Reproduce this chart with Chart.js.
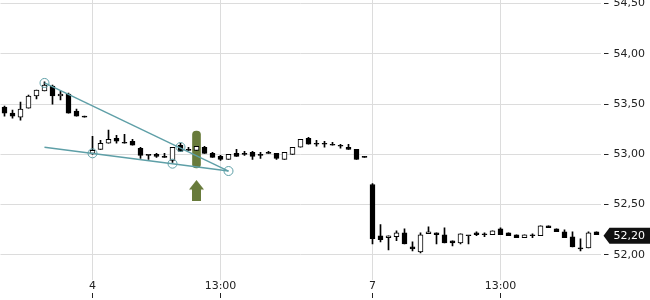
<!DOCTYPE html>
<html>
<head>
<meta charset="utf-8">
<script src="https://cdn.jsdelivr.net/npm/chart.js@4.4.1/dist/chart.umd.min.js"></script>
<style>
  html, body { margin: 0; padding: 0; background: #fff; }
  #wrap { width: 650px; height: 300px; }
</style>
</head>
<body>
<div id="wrap"><canvas id="chart" width="650" height="300"></canvas></div>
<script>
// 15-minute candles: end of day 3, full session of day 4, day 7 until 16:00
const sessions = [
  { day: 3, from: '15:00', count: 11 },
  { day: 4, from: '09:00', count: 35 },
  { day: 7, from: '09:00', count: 29 },
];

const open = [
  53.47, 53.41, 53.37, 53.46, 53.58, 53.63, 53.68, 53.58, 53.60, 53.43, 53.37,
  53.01, 53.05, 53.11, 53.16, 53.11, 53.13, 53.06, 52.99, 53.00, 52.97, 52.94, 53.09, 53.04, 53.04, 53.07,
  53.01, 52.98, 52.95, 53.01, 53.01, 53.02, 52.99, 53.01, 53.01, 52.95, 53.00, 53.07, 53.16, 53.11, 53.10,
  53.09, 53.08, 53.07, 53.05, 52.97,
  52.70, 52.19, 52.17, 52.18, 52.22, 52.08, 52.03, 52.21, 52.22, 52.20, 52.14, 52.12, 52.19, 52.22, 52.20,
  52.20, 52.26, 52.22, 52.20, 52.17, 52.19, 52.19, 52.29, 52.26, 52.23, 52.18, 52.07, 52.07, 52.23,
];
const high = [
  53.48, 53.44, 53.52, 53.59, 53.64, 53.72, 53.69, 53.63, 53.61, 53.45, 53.37,
  53.18, 53.14, 53.24, 53.19, 53.20, 53.15, 53.07, 52.99, 53.01, 53.01, 53.07, 53.11, 53.07, 53.08, 53.08,
  53.02, 52.99, 53.00, 53.05, 53.03, 53.03, 53.02, 53.03, 53.01, 53.02, 53.07, 53.15, 53.17, 53.14, 53.13,
  53.12, 53.10, 53.10, 53.05, 52.97,
  52.71, 52.30, 52.19, 52.24, 52.26, 52.13, 52.22, 52.28, 52.22, 52.27, 52.14, 52.21, 52.19, 52.23, 52.22,
  52.24, 52.27, 52.22, 52.20, 52.20, 52.21, 52.29, 52.29, 52.26, 52.25, 52.23, 52.16, 52.23, 52.23,
];
const low = [
  53.38, 53.36, 53.34, 53.46, 53.55, 53.63, 53.50, 53.54, 53.41, 53.38, 53.37,
  53.00, 53.05, 53.11, 53.11, 53.11, 53.09, 52.96, 52.95, 52.97, 52.97, 52.92, 53.03, 53.04, 53.04, 53.01,
  52.97, 52.94, 52.95, 52.98, 52.99, 52.95, 52.96, 53.01, 52.95, 52.95, 53.00, 53.07, 53.10, 53.08, 53.07,
  53.09, 53.06, 53.05, 52.95, 52.97,
  52.11, 52.13, 52.05, 52.14, 52.11, 52.04, 52.02, 52.21, 52.11, 52.12, 52.09, 52.11, 52.11, 52.19, 52.18,
  52.20, 52.20, 52.19, 52.17, 52.17, 52.17, 52.19, 52.27, 52.23, 52.17, 52.08, 52.04, 52.07, 52.20,
];
const close = [
  53.41, 53.38, 53.45, 53.58, 53.64, 53.69, 53.58, 53.60, 53.41, 53.38, 53.37,
  53.04, 53.11, 53.15, 53.13, 53.11, 53.09, 52.99, 52.99, 52.98, 52.97, 53.07, 53.03, 53.04, 53.08, 53.01,
  52.97, 52.95, 53.00, 52.98, 53.00, 52.98, 52.99, 53.01, 52.96, 53.02, 53.07, 53.15, 53.10, 53.10, 53.10,
  53.09, 53.08, 53.05, 52.95, 52.97,
  52.16, 52.15, 52.19, 52.22, 52.11, 52.06, 52.20, 52.23, 52.20, 52.12, 52.12, 52.21, 52.19, 52.20, 52.20,
  52.24, 52.20, 52.19, 52.17, 52.20, 52.19, 52.29, 52.27, 52.23, 52.17, 52.08, 52.06, 52.22, 52.20,
];

// drawings, keyed by candle index
const trendUpper = [[5, 53.71], [28, 52.834]];
const trendLower = [[5, 53.07], [28, 52.834]];
const pivots = [[5, 53.71], [11, 53.01], [21, 52.907], [22, 53.073], [28, 52.834]];
const highlightIndex = 24;
const highlightRange = [52.864, 53.232];
const signal = [[24, 52.64]];

const yTicks = { min: 51.75, max: 54.535, step: 0.5 };

const teal = '#5e9fa7';
const olive = '#687b3b';
const gridColor = '#dcdcdc';

function buildCategories() {
  const out = [];
  sessions.forEach((s) => {
    const [h, m] = s.from.split(':').map(Number);
    for (let i = 0; i < s.count; i++) {
      const t = h * 60 + m + i * 15;
      const hh = String(Math.floor(t / 60)).padStart(2, '0');
      const mm = String(t % 60).padStart(2, '0');
      out.push(s.day + ' ' + hh + ':' + mm);
    }
  });
  return out;
}
const categories = buildCategories();

// sparse series on the category axis
function sparse(points) {
  const arr = categories.map(() => null);
  points.forEach(([i, v]) => { arr[i] = v; });
  return arr;
}

// only the session start (day) and 13:00 get a label
function tickText(label) {
  const [day, time] = label.split(' ');
  if (time === '09:00') return day;
  if (time === '13:00') return time;
  return '';
}
const marked = categories.map((c) => tickText(c) !== '');

function arrowImage() {
  const c = document.createElement('canvas');
  c.width = 15; c.height = 21;
  const g = c.getContext('2d');
  g.fillStyle = olive;
  g.beginPath();
  g.moveTo(7.5, 0); g.lineTo(15, 9.5); g.lineTo(12, 9.5); g.lineTo(12, 21);
  g.lineTo(3, 21); g.lineTo(3, 9.5); g.lineTo(0, 9.5);
  g.closePath(); g.fill();
  return c;
}

const fmt = (v) => v.toFixed(2).replace('.', ',');

const lastPriceTag = {
  id: 'lastPriceTag',
  afterDraw(chart) {
    const ys = chart.scales.y;
    const ctx = chart.ctx;
    const v = close[close.length - 1];
    const py = ys.getPixelForValue(v) + 1;
    const x0 = ys.left + 3, xb = ys.left + 9, x1 = chart.width;
    ctx.save();
    ctx.fillStyle = '#111';
    ctx.beginPath();
    ctx.moveTo(x0, py); ctx.lineTo(xb, py - 8); ctx.lineTo(x1, py - 8);
    ctx.lineTo(x1, py + 8); ctx.lineTo(xb, py + 8);
    ctx.closePath(); ctx.fill();
    ctx.fillStyle = '#fff';
    ctx.font = '11px "DejaVu Sans"';
    ctx.textBaseline = 'middle';
    ctx.fillText(fmt(v), ys.left + 13, py + 0.5);
    ctx.restore();
  },
};

Chart.defaults.font.family = '"DejaVu Sans", sans-serif';
Chart.defaults.font.size = 11;
Chart.defaults.color = '#222';

const highlight = categories.map((_, i) => (i === highlightIndex ? highlightRange : null));

new Chart(document.getElementById('chart'), {
  type: 'bar',
  data: {
    labels: categories,
    datasets: [
      {
        label: 'highlight',
        data: highlight,
        backgroundColor: olive,
        barThickness: 8,
        borderRadius: 4,
        borderSkipped: false,
        grouped: false,
        order: 3,
      },
      {
        label: 'wick',
        data: low.map((l, i) => [l, high[i]]),
        backgroundColor: '#000',
        barThickness: 1,
        minBarLength: 1,
        grouped: false,
        order: 2,
      },
      {
        label: 'body',
        data: open.map((o, i) => [o, close[i]]),
        backgroundColor: open.map((o, i) => (close[i] > o ? '#fff' : '#000')),
        borderColor: '#000',
        borderWidth: 1,
        borderSkipped: false,
        barThickness: 5,
        minBarLength: 1,
        grouped: false,
        order: 1,
      },
      {
        type: 'line', label: 'upper', data: sparse(trendUpper), spanGaps: true,
        borderColor: teal, borderWidth: 1.4, pointRadius: 0, order: 0,
      },
      {
        type: 'line', label: 'lower', data: sparse(trendLower), spanGaps: true,
        borderColor: teal, borderWidth: 1.4, pointRadius: 0, order: 0,
      },
      {
        type: 'line', label: 'pivots', data: sparse(pivots), showLine: false,
        pointRadius: 4.5, pointBorderWidth: 1, pointBorderColor: teal,
        pointBackgroundColor: 'rgba(255,255,255,0)', order: 0,
      },
      {
        type: 'line', label: 'signal', data: sparse(signal), showLine: false,
        pointStyle: arrowImage(), pointRadius: 10, order: 0,
      },
    ],
  },
  options: {
    responsive: false,
    animation: false,
    layout: { autoPadding: false, padding: { left: 0.5, top: 0, right: 0, bottom: 0 } },
    plugins: { legend: { display: false }, tooltip: { enabled: false } },
    scales: {
      x: {
        type: 'category',
        offset: true,
        grid: {
          offset: false,
          color: (ctx) => (marked[ctx.index] ? gridColor : 'rgba(0,0,0,0)'),
          tickColor: (ctx) => (marked[ctx.index] ? '#222' : 'rgba(0,0,0,0)'),
          tickLength: 18,
          tickBorderDash: [0, 13, 5, 40],
        },
        border: { display: false },
        ticks: {
          autoSkip: false,
          maxRotation: 0,
          padding: -18,
          callback: function (value) { return tickText(this.getLabelForValue(value)); },
        },
        afterFit: (s) => { s.height = 20; s.paddingLeft = 0; s.paddingRight = 0; },
      },
      y: {
        position: 'right',
        min: yTicks.min,
        max: yTicks.max,
        grid: { color: gridColor, tickLength: 8, tickColor: '#222', tickBorderDash: [0, 3, 5, 40] },
        border: { display: false },
        ticks: { stepSize: yTicks.step, includeBounds: false, padding: 5, callback: (v) => fmt(v) },
        afterFit: (s) => { s.width = 49.5; s.paddingTop = 0; s.paddingBottom = 0; },
      },
    },
  },
  plugins: [lastPriceTag],
});
</script>
</body>
</html>
